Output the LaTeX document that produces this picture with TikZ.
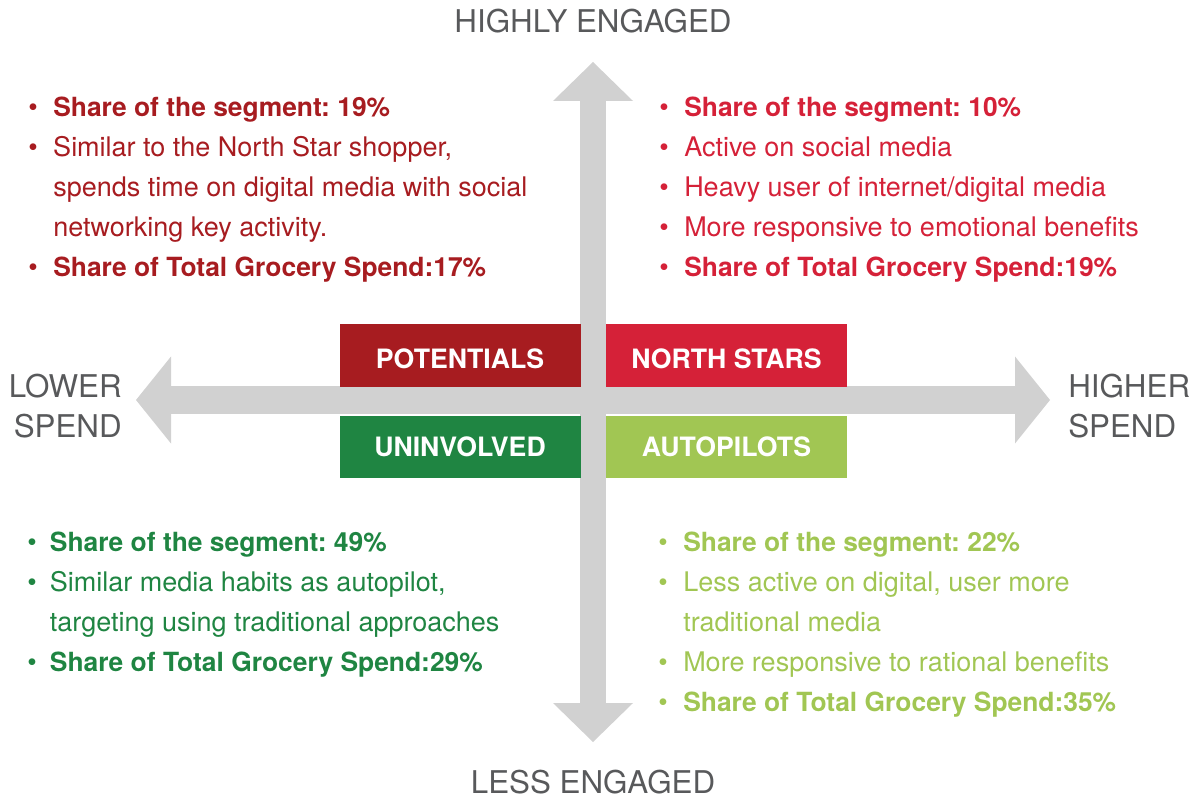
\documentclass[tikz,border=0pt]{standalone}
\usepackage{fontspec}
\setmainfont{TeX Gyre Heros}
\frenchspacing
\usetikzlibrary{arrows.meta}

\definecolor{potred}{HTML}{A71C20}
\definecolor{starred}{HTML}{D52138}
\definecolor{uninvgreen}{HTML}{1F8542}
\definecolor{autogreen}{HTML}{A1C653}
\definecolor{axisgray}{HTML}{D1D1D1}
\definecolor{labelgray}{HTML}{58595B}

% bullet and its empty twin for wrapped lines
\newcommand{\itm}[1][18.75pt]{\makebox[#1][l]{\textbullet}}
\newcommand{\noitm}[1][18.75pt]{\makebox[#1][l]{}}
% the bold share lines run a touch smaller
\newcommand{\keyfig}[1]{{\fontsize{19.8}{30}\selectfont\bfseries #1}}

\tikzset{
  segbox/.style={minimum width=180.75pt, minimum height=46.5pt, inner sep=0pt,
    text=white, font=\fontsize{20}{24}\selectfont\bfseries},
  upper/.style={text height=19pt, text depth=0pt},
  axislabel/.style={text=labelgray, inner sep=0pt, align=center,
    font=\fontsize{23.5}{30}\selectfont},
  blurb/.style={anchor=base west, inner sep=0pt, font=\fontsize{20.25}{30}\selectfont},
  hbar/.style={draw=axisgray, line width=21pt,
    {Triangle[length=26.25pt, width=65.25pt, line width=0pt]}-{Triangle[length=26.25pt, width=65.25pt, line width=0pt]}},
  vbar/.style={draw=axisgray, line width=19.5pt,
    {Triangle[length=29.25pt, width=60pt, line width=0pt]}-{Triangle[length=29.25pt, width=60pt, line width=0pt]}}
}

\begin{document}
\begin{tikzpicture}[x=0.75pt, y=-0.75pt]
    \useasboundingbox (0,0) rectangle (1195,798);
    % the two axes
    \coordinate (west) at (136,400);
    \coordinate (east) at (1050,400);
    \coordinate (top) at (593,62);
    \coordinate (bottom) at (593,742);
    \draw[hbar] (west) -- (east);
    \draw[vbar] (bottom) -- (top);
    % axis ends
        \node[axislabel, anchor=base] (high) at (593,33) {HIGHLY ENGAGED};
        \node[axislabel, anchor=base] (low) at (593,793) {LESS ENGAGED};
        \node[axislabel, anchor=base east, align=right] (lower) at (122,437) {LOWER\\SPEND};
        \node[axislabel, anchor=base west, align=left] (higher) at (1068,437) {HIGHER\\SPEND};
    % the four segments
        \node[segbox, upper, fill=potred] (potentials) at (460,355.5) {POTENTIALS};
        \node[segbox, upper, fill=starred] (northstars) at (726.5,355.5) {NORTH STARS};
        \node[segbox, fill=uninvgreen] (uninvolved) at (460,447) {UNINVOLVED};
        \node[segbox, fill=autogreen] (autopilots) at (726.5,447) {AUTOPILOTS};
    % what each segment is like
        \node[blurb, text=potred] (potinfo) at (28,117) {\begin{tabular}[t]{@{}l@{}}
            \itm\keyfig{Share of the segment: 19\%}\\
            \itm Similar to the North Star shopper,\\
            \noitm spends time on digital media with social\\
            \noitm networking key activity.\\
            \itm\keyfig{Share of Total Grocery Spend:17\%}
        \end{tabular}};
        \node[blurb, text=starred] (starinfo) at (659,117) {\begin{tabular}[t]{@{}l@{}}
            \itm\keyfig{Share of the segment: 10\%}\\
            \itm Active on social media\\
            \itm Heavy user of internet/digital media\\
            \itm More responsive to emotional benefits\\
            \itm\keyfig{Share of Total Grocery Spend:19\%}
        \end{tabular}};
        \node[blurb, text=uninvgreen] (uninvinfo) at (27,551) {\begin{tabular}[t]{@{}l@{}}
            \itm[17pt]\keyfig{Share of the segment: 49\%}\\
            \itm[17pt]Similar media habits as autopilot,\\
            \noitm[17pt]targeting using traditional approaches\\
            \itm[17pt]\keyfig{Share of Total Grocery Spend:29\%}
        \end{tabular}};
        \node[blurb, text=autogreen] (autoinfo) at (658,551) {\begin{tabular}[t]{@{}l@{}}
            \itm\keyfig{Share of the segment: 22\%}\\
            \itm Less active on digital, user more\\
            \noitm traditional media\\
            \itm More responsive to rational benefits\\
            \itm\keyfig{Share of Total Grocery Spend:35\%}
        \end{tabular}};
\end{tikzpicture}
\end{document}
